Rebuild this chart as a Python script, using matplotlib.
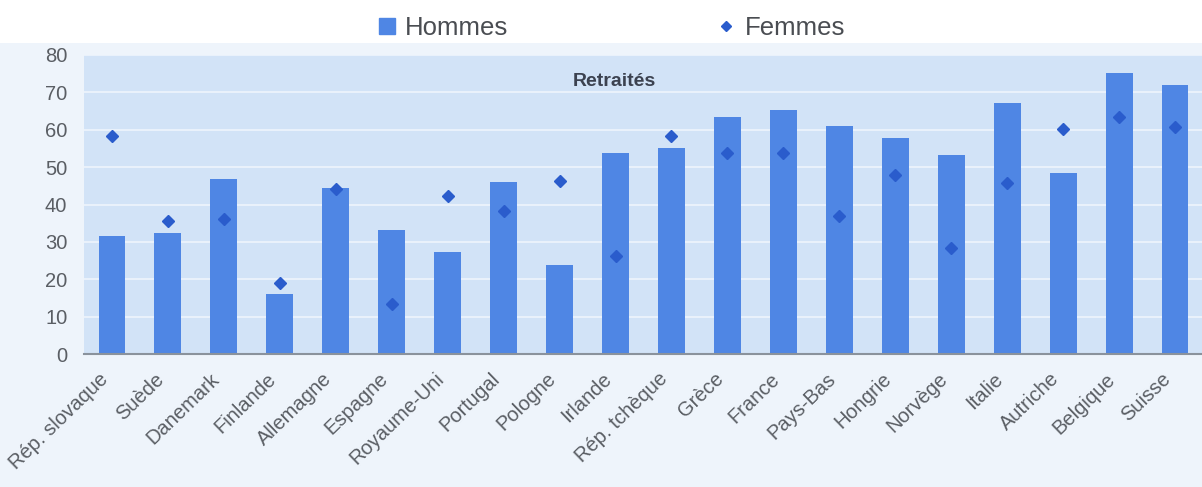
import matplotlib
matplotlib.use("Agg")
import matplotlib.pyplot as plt
import matplotlib.transforms as mtransforms
from matplotlib.lines import Line2D
from matplotlib.patches import Rectangle
import numpy as np

plt.rcParams['font.family'] = ['Liberation Sans', 'DejaVu Sans']

# Data
pays = ["Rép. slovaque", "Suède", "Danemark", "Finlande", "Allemagne",
        "Espagne", "Royaume-Uni", "Portugal", "Pologne", "Irlande",
        "Rép. tchèque", "Grèce", "France", "Pays-Bas", "Hongrie",
        "Norvège", "Italie", "Autriche", "Belgique", "Suisse"]
hommes = [31.6, 32.5, 46.7, 16.0, 44.5, 33.3, 27.4, 45.9, 23.8, 53.7,
          55.0, 63.4, 65.3, 60.9, 57.8, 53.3, 67.1, 48.5, 75.1, 71.9]
femmes = [58.4, 35.7, 36.0, 19.1, 44.2, 13.3, 42.2, 38.2, 46.2, 26.3,
          58.4, 53.9, 53.9, 37.0, 47.8, 28.3, 45.7, 60.2, 63.4, 60.7]
yticks = [0, 10, 20, 30, 40, 50, 60, 70, 80]

bar_color = '#4f86e4'
dot_color = '#2a5ccc'
text_color = '#5a5e64'

W, H = 1202, 487
fig = plt.figure(figsize=(W / 100, H / 100), dpi=100, facecolor='#eef4fb')

# white strip at the top holding the legend
fig.patches.append(Rectangle((0, 1 - 43 / H), 1, 43 / H, transform=fig.transFigure,
                             facecolor='white', edgecolor='none', zorder=0))

ax = fig.add_axes([84 / W, 1 - 354 / H, (1203 - 84) / W, (354 - 55) / H])
ax.set_facecolor('#d2e3f7')

x = np.arange(len(pays))
ax.bar(x, hommes, width=0.48, color=bar_color, zorder=2)
ax.plot(x, femmes, linestyle='none', marker='D', markersize=6,
        color=dot_color, zorder=3)

ax.set_xlim(-0.5, len(pays) - 0.5)
ax.set_ylim(0, 80)
ax.set_yticks(yticks)
ax.yaxis.grid(True, color='#eaf2fc', linewidth=1.4, zorder=1)
ax.set_axisbelow(True)
ax.tick_params(axis='y', length=0, pad=12, labelsize=14.5, labelcolor=text_color)
ax.tick_params(axis='x', length=0, pad=16, labelsize=14.5, labelcolor=text_color)

ax.set_xticks(x)
ax.set_xticklabels(pays, rotation=44, ha='right', va='center', rotation_mode='anchor')
offset = mtransforms.ScaledTranslation(-7 / 100, 0, fig.dpi_scale_trans)
for lbl in ax.get_xticklabels():
    lbl.set_transform(lbl.get_transform() + offset)

for side in ['top', 'right', 'left']:
    ax.spines[side].set_visible(False)
ax.spines['bottom'].set_color('#8a929c')
ax.spines['bottom'].set_linewidth(1.5)

ax.text(0.474, 0.91, "Retraités", transform=ax.transAxes, ha='center', va='center',
        fontsize=14, fontweight='bold', color='#3c4250')

handles = [
    Line2D([], [], linestyle='none', marker='s', markersize=12, color=bar_color),
    Line2D([], [], linestyle='none', marker='D', markersize=5, color=dot_color),
]
fig.legend(handles, ["Hommes", "Femmes"], ncol=2, frameon=False,
           loc='center left', bbox_to_anchor=(374 / W, 1 - 28 / H),
           fontsize=18.5, labelcolor='#4a4d52', handlelength=1.0,
           handletextpad=0.2, columnspacing=8.0, borderpad=0, borderaxespad=0)

fig.savefig("out.png", dpi=100, facecolor=fig.get_facecolor())
